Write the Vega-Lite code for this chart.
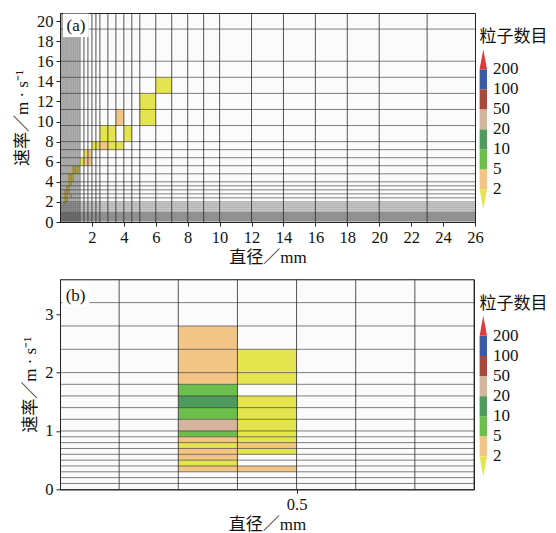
{
  "$schema": "https://vega.github.io/schema/vega-lite/v6.json",
  "padding": {"left": 13, "top": 12, "right": 0, "bottom": 0},
  "bounds": "flush",
  "columns": 2,
  "spacing": {"row": 57.3, "column": 4.6},
  "config": {
    "font": "Liberation Serif, Noto Sans CJK SC",
    "text": {"font": "Liberation Serif, Noto Sans CJK SC"},
    "view": {"stroke": "#222", "strokeWidth": 1, "fill": "#fbfbfb"},
    "axis": {
      "labelFont": "Liberation Serif",
      "titleFont": "Liberation Serif, Noto Sans CJK SC",
      "labelFontSize": 16.5,
      "titleFontSize": 17,
      "titleFontWeight": "normal",
      "labelColor": "#111",
      "titleColor": "#111",
      "domainColor": "#222",
      "tickColor": "#222",
      "tickSize": 4,
      "tickCount": 40,
      "labelPadding": 3,
      "labelOverlap": false,
      "labelFlush": false,
      "grid": false
    }
  },
  "datasets": {
    "diamEdges": [
      {"d": 0.125}, {"d": 0.25}, {"d": 0.375}, {"d": 0.5}, {"d": 0.625}, {"d": 0.75}, {"d": 0.875},
      {"d": 1}, {"d": 1.125}, {"d": 1.25}, {"d": 1.5}, {"d": 1.75}, {"d": 2}, {"d": 2.25}, {"d": 2.5},
      {"d": 3}, {"d": 3.5}, {"d": 4}, {"d": 4.5}, {"d": 5}, {"d": 6}, {"d": 7}, {"d": 8}, {"d": 9},
      {"d": 10}, {"d": 12}, {"d": 14}, {"d": 16}, {"d": 18}, {"d": 20}, {"d": 23}
    ],
    "velEdges": [
      {"v": 0.1}, {"v": 0.2}, {"v": 0.3}, {"v": 0.4}, {"v": 0.5}, {"v": 0.6}, {"v": 0.7}, {"v": 0.8},
      {"v": 0.9}, {"v": 1.0}, {"v": 1.2}, {"v": 1.4}, {"v": 1.6}, {"v": 1.8}, {"v": 2.0}, {"v": 2.4},
      {"v": 2.8}, {"v": 3.2}, {"v": 3.6}, {"v": 4.0}, {"v": 4.8}, {"v": 5.6}, {"v": 6.4}, {"v": 7.2},
      {"v": 8.0}, {"v": 9.6}, {"v": 11.2}, {"v": 12.8}, {"v": 14.4}, {"v": 16.0}, {"v": 19.2}
    ],
    "cellsA": [
      {"d0": 6, "d1": 7, "v0": 12.8, "v1": 14.4, "n": 1},
      {"d0": 5, "d1": 6, "v0": 11.2, "v1": 12.8, "n": 1},
      {"d0": 5, "d1": 6, "v0": 9.6, "v1": 11.2, "n": 1},
      {"d0": 3.5, "d1": 4, "v0": 9.6, "v1": 11.2, "n": 3},
      {"d0": 2.5, "d1": 3, "v0": 8, "v1": 9.6, "n": 1},
      {"d0": 3, "d1": 3.5, "v0": 8, "v1": 9.6, "n": 1},
      {"d0": 4, "d1": 4.5, "v0": 8, "v1": 9.6, "n": 1},
      {"d0": 2, "d1": 2.25, "v0": 7.2, "v1": 8, "n": 1},
      {"d0": 2.25, "d1": 2.5, "v0": 7.2, "v1": 8, "n": 1},
      {"d0": 2.5, "d1": 3, "v0": 7.2, "v1": 8, "n": 3},
      {"d0": 3, "d1": 3.5, "v0": 7.2, "v1": 8, "n": 1},
      {"d0": 3.5, "d1": 4, "v0": 7.2, "v1": 8, "n": 1},
      {"d0": 1.5, "d1": 1.75, "v0": 6.4, "v1": 7.2, "n": 1},
      {"d0": 1.75, "d1": 2, "v0": 6.4, "v1": 7.2, "n": 3},
      {"d0": 1.25, "d1": 1.5, "v0": 5.6, "v1": 6.4, "n": 1},
      {"d0": 1.5, "d1": 1.75, "v0": 5.6, "v1": 6.4, "n": 3},
      {"d0": 1.75, "d1": 2, "v0": 5.6, "v1": 6.4, "n": 3},
      {"d0": 0.75, "d1": 0.875, "v0": 4.8, "v1": 5.6, "n": 1},
      {"d0": 0.875, "d1": 1, "v0": 4.8, "v1": 5.6, "n": 3},
      {"d0": 1, "d1": 1.125, "v0": 4.8, "v1": 5.6, "n": 1},
      {"d0": 1.125, "d1": 1.25, "v0": 4.8, "v1": 5.6, "n": 1},
      {"d0": 0.5, "d1": 0.625, "v0": 4.0, "v1": 4.8, "n": 1},
      {"d0": 0.625, "d1": 0.75, "v0": 4.0, "v1": 4.8, "n": 3},
      {"d0": 0.75, "d1": 0.875, "v0": 4.0, "v1": 4.8, "n": 1},
      {"d0": 0.5, "d1": 0.625, "v0": 3.6, "v1": 4.0, "n": 1},
      {"d0": 0.625, "d1": 0.75, "v0": 3.6, "v1": 4.0, "n": 1},
      {"d0": 0.375, "d1": 0.5, "v0": 3.2, "v1": 3.6, "n": 3},
      {"d0": 0.5, "d1": 0.625, "v0": 3.2, "v1": 3.6, "n": 1},
      {"d0": 0.25, "d1": 0.375, "v0": 2.8, "v1": 3.2, "n": 3},
      {"d0": 0.375, "d1": 0.5, "v0": 2.8, "v1": 3.2, "n": 1},
      {"d0": 0.5, "d1": 0.625, "v0": 2.8, "v1": 3.2, "n": 3},
      {"d0": 0.25, "d1": 0.375, "v0": 2.4, "v1": 2.8, "n": 1},
      {"d0": 0.375, "d1": 0.5, "v0": 2.4, "v1": 2.8, "n": 3},
      {"d0": 0.625, "d1": 0.75, "v0": 2.4, "v1": 2.8, "n": 1},
      {"d0": 0.25, "d1": 0.375, "v0": 2.0, "v1": 2.4, "n": 1},
      {"d0": 0.375, "d1": 0.5, "v0": 2.0, "v1": 2.4, "n": 3},
      {"d0": 0.25, "d1": 0.375, "v0": 1.8, "v1": 2.0, "n": 1},
      {"d0": 0.25, "d1": 0.375, "v0": 0.9, "v1": 1.0, "n": 1}
    ],
    "cellsB": [
      {"d0": 0.25, "d1": 0.375, "v0": 2.4, "v1": 2.8, "n": 3},
      {"d0": 0.25, "d1": 0.375, "v0": 2.0, "v1": 2.4, "n": 3},
      {"d0": 0.25, "d1": 0.375, "v0": 1.8, "v1": 2.0, "n": 3},
      {"d0": 0.25, "d1": 0.375, "v0": 1.6, "v1": 1.8, "n": 7},
      {"d0": 0.25, "d1": 0.375, "v0": 1.4, "v1": 1.6, "n": 14},
      {"d0": 0.25, "d1": 0.375, "v0": 1.2, "v1": 1.4, "n": 8},
      {"d0": 0.25, "d1": 0.375, "v0": 1.0, "v1": 1.2, "n": 24},
      {"d0": 0.25, "d1": 0.375, "v0": 0.9, "v1": 1.0, "n": 6},
      {"d0": 0.25, "d1": 0.375, "v0": 0.8, "v1": 0.9, "n": 3},
      {"d0": 0.25, "d1": 0.375, "v0": 0.7, "v1": 0.8, "n": 1},
      {"d0": 0.25, "d1": 0.375, "v0": 0.6, "v1": 0.7, "n": 3},
      {"d0": 0.25, "d1": 0.375, "v0": 0.5, "v1": 0.6, "n": 2},
      {"d0": 0.25, "d1": 0.375, "v0": 0.4, "v1": 0.5, "n": 1},
      {"d0": 0.25, "d1": 0.375, "v0": 0.3, "v1": 0.4, "n": 2},
      {"d0": 0.375, "d1": 0.5, "v0": 2.0, "v1": 2.4, "n": 1},
      {"d0": 0.375, "d1": 0.5, "v0": 1.8, "v1": 2.0, "n": 1},
      {"d0": 0.375, "d1": 0.5, "v0": 1.4, "v1": 1.6, "n": 1},
      {"d0": 0.375, "d1": 0.5, "v0": 1.2, "v1": 1.4, "n": 1},
      {"d0": 0.375, "d1": 0.5, "v0": 1.0, "v1": 1.2, "n": 1},
      {"d0": 0.375, "d1": 0.5, "v0": 0.9, "v1": 1.0, "n": 1},
      {"d0": 0.375, "d1": 0.5, "v0": 0.8, "v1": 0.9, "n": 1},
      {"d0": 0.375, "d1": 0.5, "v0": 0.7, "v1": 0.8, "n": 2},
      {"d0": 0.375, "d1": 0.5, "v0": 0.6, "v1": 0.7, "n": 1},
      {"d0": 0.375, "d1": 0.5, "v0": 0.3, "v1": 0.4, "n": 2}
    ],
    "barBands": [
      {"lo": 1, "hi": 2, "n": 2},
      {"lo": 2, "hi": 3, "n": 5},
      {"lo": 3, "hi": 4, "n": 10},
      {"lo": 4, "hi": 5, "n": 20},
      {"lo": 5, "hi": 6, "n": 50},
      {"lo": 6, "hi": 7, "n": 100}
    ],
    "barEnds": [
      {"end": "min", "k": 0, "left": 0.5, "right": 0.5, "n": 1},
      {"end": "min", "k": 1, "left": 0, "right": 1, "n": 1},
      {"end": "max", "k": 7, "left": 0, "right": 1, "n": 200},
      {"end": "max", "k": 8, "left": 0.5, "right": 0.5, "n": 200}
    ],
    "barTicks": [
      {"k": 1, "label": "2"},
      {"k": 2, "label": "5"},
      {"k": 3, "label": "10"},
      {"k": 4, "label": "20"},
      {"k": 5, "label": "50"},
      {"k": 6, "label": "100"},
      {"k": 7, "label": "200"}
    ]
  },
  "resolve": {"scale": {"x": "independent", "y": "independent", "color": "independent"}},
  "concat": [
    {
      "width": 415,
      "height": 209,
      "layer": [
        {
          "data": {"name": "cellsA"},
          "mark": {"type": "rect"},
          "encoding": {
            "x": {
              "field": "d0", "type": "quantitative",
              "scale": {"domain": [0, 26], "nice": false, "zero": false},
              "axis": {"values": [2, 4, 6, 8, 10, 12, 14, 16, 18, 20, 22, 24, 26], "format": "d", "tickCount": 40, "labelOverlap": false, "title": "直径／mm", "titlePadding": 4}
            },
            "x2": {"field": "d1"},
            "y": {
              "field": "v0", "type": "quantitative",
              "scale": {"domain": [0, 20.8], "nice": false, "zero": false},
              "axis": {"values": [0, 2, 4, 6, 8, 10, 12, 14, 16, 18, 20], "format": "d", "tickCount": 40, "labelOverlap": false, "title": "速率／m · s⁻¹", "titlePadding": 5}
            },
            "y2": {"field": "v1"},
            "color": {
              "field": "n", "type": "quantitative", "legend": null,
              "scale": {
                "type": "threshold",
                "domain": [2, 5, 10, 20, 50, 100, 200],
                "range": ["#e4e44e", "#f3c585", "#6cbf4b", "#4f9a5d", "#d4b59e", "#a9493d", "#3b5aa6", "#e0393b"]
              }
            }
          }
        },
        {
          "data": {"name": "diamEdges"},
          "mark": {"type": "rule", "color": "#2a2a2a", "strokeWidth": 0.8, "clip": true},
          "encoding": {"x": {"field": "d", "type": "quantitative"}}
        },
        {
          "data": {"name": "velEdges"},
          "mark": {"type": "rule", "color": "#2a2a2a", "strokeWidth": 0.6, "clip": true},
          "encoding": {"y": {"field": "v", "type": "quantitative"}}
        },
        {
          "data": {"values": [{}]},
          "mark": {"type": "rect", "color": "#ffffff"},
          "encoding": {
            "x": {"datum": 0.19}, "x2": {"datum": 1.8},
            "y": {"datum": 18.4}, "y2": {"datum": 20.74}
          }
        },
        {
          "data": {"values": [{}]},
          "mark": {"type": "text", "text": "(a)", "fontSize": 17, "align": "center", "baseline": "middle", "color": "#111"},
          "encoding": {"x": {"datum": 1.0}, "y": {"datum": 19.55}}
        }
      ]
    },
    {
      "width": 7.4,
      "height": 209,
      "view": {"stroke": null, "fill": null},
      "layer": [
        {
          "data": {"name": "barBands"},
          "mark": {"type": "rect"},
          "encoding": {
            "x": {"datum": 0, "type": "quantitative", "scale": {"domain": [0, 1], "nice": false}, "axis": null},
            "x2": {"datum": 1},
            "y": {"field": "lo", "type": "quantitative", "scale": {"domain": [-0.635, 9.815], "nice": false, "zero": false}, "axis": null},
            "y2": {"field": "hi"},
            "color": {
              "field": "n", "type": "quantitative", "legend": null,
              "scale": {
                "type": "threshold",
                "domain": [2, 5, 10, 20, 50, 100, 200],
                "range": ["#e4e44e", "#f3c585", "#6cbf4b", "#4f9a5d", "#d4b59e", "#a9493d", "#3b5aa6", "#e0393b"]
              }
            }
          }
        },
        {
          "data": {"name": "barEnds"},
          "mark": {"type": "area", "orient": "horizontal"},
          "encoding": {
            "y": {"field": "k", "type": "quantitative"},
            "x": {"field": "left", "type": "quantitative"},
            "x2": {"field": "right"},
            "detail": {"field": "end"},
            "color": {
              "field": "n", "type": "quantitative", "legend": null,
              "scale": {
                "type": "threshold",
                "domain": [2, 5, 10, 20, 50, 100, 200],
                "range": ["#e4e44e", "#f3c585", "#6cbf4b", "#4f9a5d", "#d4b59e", "#a9493d", "#3b5aa6", "#e0393b"]
              }
            }
          }
        },
        {
          "data": {"name": "barTicks"},
          "mark": {"type": "text", "align": "left", "baseline": "middle", "dx": 6, "fontSize": 17, "color": "#111", "font": "Liberation Serif"},
          "encoding": {
            "x": {"datum": 1},
            "y": {"field": "k", "type": "quantitative"},
            "text": {"field": "label"}
          }
        },
        {
          "data": {"values": [{}]},
          "mark": {"type": "text", "text": "粒子数目", "align": "left", "baseline": "middle", "fontSize": 17, "color": "#111"},
          "encoding": {"x": {"datum": 0}, "y": {"datum": 8.6}}
        }
      ]
    },
    {
      "width": 414,
      "height": 210,
      "layer": [
        {
          "data": {"name": "cellsB"},
          "mark": {"type": "rect"},
          "encoding": {
            "x": {
              "field": "d0", "type": "quantitative",
              "scale": {"domain": [0, 0.875], "nice": false, "zero": false},
              "axis": {"values": [0.5], "format": ".1f", "tickCount": 40, "labelOverlap": false, "title": "直径／mm", "titlePadding": 4}
            },
            "x2": {"field": "d1"},
            "y": {
              "field": "v0", "type": "quantitative",
              "scale": {"domain": [0, 3.6], "nice": false, "zero": false},
              "axis": {"values": [0, 1, 2, 3], "format": "d", "tickCount": 40, "labelOverlap": false, "title": "速率／m · s⁻¹", "titlePadding": 5}
            },
            "y2": {"field": "v1"},
            "color": {
              "field": "n", "type": "quantitative", "legend": null,
              "scale": {
                "type": "threshold",
                "domain": [2, 5, 10, 20, 50, 100, 200],
                "range": ["#e4e44e", "#f3c585", "#6cbf4b", "#4f9a5d", "#d4b59e", "#a9493d", "#3b5aa6", "#e0393b"]
              }
            }
          }
        },
        {
          "data": {"name": "diamEdges"},
          "mark": {"type": "rule", "color": "#2a2a2a", "strokeWidth": 0.8, "clip": true},
          "encoding": {"x": {"field": "d", "type": "quantitative"}}
        },
        {
          "data": {"name": "velEdges"},
          "mark": {"type": "rule", "color": "#2a2a2a", "strokeWidth": 0.6, "clip": true},
          "encoding": {"y": {"field": "v", "type": "quantitative"}}
        },
        {
          "data": {"values": [{}]},
          "mark": {"type": "rect", "color": "#ffffff"},
          "encoding": {
            "x": {"datum": 0.005}, "x2": {"datum": 0.062},
            "y": {"datum": 3.12}, "y2": {"datum": 3.54}
          }
        },
        {
          "data": {"values": [{}]},
          "mark": {"type": "text", "text": "(b)", "fontSize": 17, "align": "center", "baseline": "middle", "color": "#111"},
          "encoding": {"x": {"datum": 0.033}, "y": {"datum": 3.31}}
        }
      ]
    },
    {
      "width": 7.4,
      "height": 210,
      "view": {"stroke": null, "fill": null},
      "layer": [
        {
          "data": {"name": "barBands"},
          "mark": {"type": "rect"},
          "encoding": {
            "x": {"datum": 0, "type": "quantitative", "scale": {"domain": [0, 1], "nice": false}, "axis": null},
            "x2": {"datum": 1},
            "y": {"field": "lo", "type": "quantitative", "scale": {"domain": [-0.635, 9.815], "nice": false, "zero": false}, "axis": null},
            "y2": {"field": "hi"},
            "color": {
              "field": "n", "type": "quantitative", "legend": null,
              "scale": {
                "type": "threshold",
                "domain": [2, 5, 10, 20, 50, 100, 200],
                "range": ["#e4e44e", "#f3c585", "#6cbf4b", "#4f9a5d", "#d4b59e", "#a9493d", "#3b5aa6", "#e0393b"]
              }
            }
          }
        },
        {
          "data": {"name": "barEnds"},
          "mark": {"type": "area", "orient": "horizontal"},
          "encoding": {
            "y": {"field": "k", "type": "quantitative"},
            "x": {"field": "left", "type": "quantitative"},
            "x2": {"field": "right"},
            "detail": {"field": "end"},
            "color": {
              "field": "n", "type": "quantitative", "legend": null,
              "scale": {
                "type": "threshold",
                "domain": [2, 5, 10, 20, 50, 100, 200],
                "range": ["#e4e44e", "#f3c585", "#6cbf4b", "#4f9a5d", "#d4b59e", "#a9493d", "#3b5aa6", "#e0393b"]
              }
            }
          }
        },
        {
          "data": {"name": "barTicks"},
          "mark": {"type": "text", "align": "left", "baseline": "middle", "dx": 6, "fontSize": 17, "color": "#111", "font": "Liberation Serif"},
          "encoding": {
            "x": {"datum": 1},
            "y": {"field": "k", "type": "quantitative"},
            "text": {"field": "label"}
          }
        },
        {
          "data": {"values": [{}]},
          "mark": {"type": "text", "text": "粒子数目", "align": "left", "baseline": "middle", "fontSize": 17, "color": "#111"},
          "encoding": {"x": {"datum": 0}, "y": {"datum": 8.6}}
        }
      ]
    }
  ]
}
